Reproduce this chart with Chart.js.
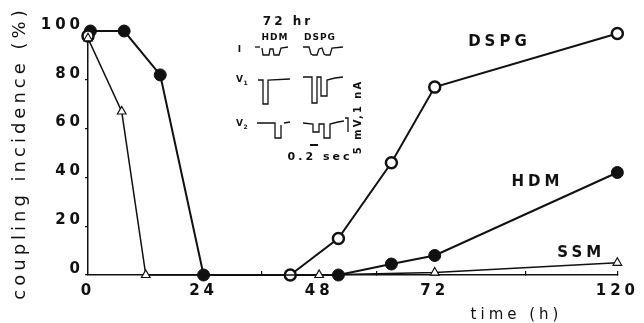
<!DOCTYPE html>
<html>
<head>
<meta charset="utf-8">
<script src="https://cdn.jsdelivr.net/npm/chart.js@4.4.1/dist/chart.umd.min.js"></script>
<style>
  html, body { margin: 0; padding: 0; background: #fff; }
  #wrap { width: 644px; height: 323px; }
</style>
</head>
<body>
<div id="wrap"><canvas id="couplingChart"></canvas></div>
<script>
// values: time (h) and coupling incidence (%)
const hdmHours = [0.5, 7.5, 15, 24, 52, 63, 72, 120];
const hdmValues = [100, 100, 82, 0, 0, 4.5, 8, 42];

const dspgHours = [0, 42, 52, 63, 72, 120];
const dspgValues = [98, 0, 15, 46, 77, 99];

const ssmHours = [0, 7, 12, 48, 72, 120];
const ssmValues = [97, 67, 0, 0, 1, 5];

const xTickValues = [0, 24, 36, 48, 60, 72, 96, 120];
const xTickLabels = ['0', '24', '', '48', '', '72', '', '120'];
const yTickValues = [0, 20, 40, 60, 80, 100];

const INK = '#111';

// the drawn time axis is squeezed after 72 h
const BREAK_AT = 72;
const SQUEEZE = 0.79;
function warp(v) { return v <= BREAK_AT ? v : BREAK_AT + (v - BREAK_AT) * SQUEEZE; }
function unwarp(w) { return w <= BREAK_AT ? w : BREAK_AT + (w - BREAK_AT) / SQUEEZE; }

class SqueezedScale extends Chart.LinearScale {
  getPixelForValue(value) {
    const lo = warp(this.min), hi = warp(this.max);
    return this.getPixelForDecimal((warp(value) - lo) / (hi - lo));
  }
  getValueForPixel(pixel) {
    const lo = warp(this.min), hi = warp(this.max);
    return unwarp(lo + this.getDecimalForPixel(pixel) * (hi - lo));
  }
}
SqueezedScale.id = 'squeezed';
SqueezedScale.defaults = Chart.LinearScale.defaults;
Chart.register(SqueezedScale);

function toPoints(xs, ys) {
  return xs.map((x, i) => ({ x: x, y: ys[i] }));
}

// wide letter spacing like the typewriter lettering of the figure
const spacingPlugin = {
  id: 'spacing',
  beforeDraw(chart) {
    chart.ctx.letterSpacing = '4px';
  }
};

// series names and axis title written in the plot
const labelsPlugin = {
  id: 'labels',
  afterDatasetsDraw(chart) {
    const ctx = chart.ctx;
    const xs = chart.scales.x, ys = chart.scales.y;
    ctx.save();
    ctx.fillStyle = INK;
    ctx.textAlign = 'center';
    ctx.textBaseline = 'middle';
    ctx.letterSpacing = '4px';
    ctx.font = 'bold 15px "DejaVu Sans"';
    ctx.fillText('DSPG', xs.getPixelForValue(89), ys.getPixelForValue(95.5));
    ctx.fillText('HDM', xs.getPixelForValue(99), ys.getPixelForValue(38));
    ctx.fillText('SSM', xs.getPixelForValue(110.5), ys.getPixelForValue(9));
    ctx.font = '15px "DejaVu Sans"';
    ctx.fillText('time (h)', xs.getPixelForValue(93.5), xs.bottom - 8);
    ctx.restore();
  }
};

// inset: current and voltage records at 72 hr
const insetPlugin = {
  id: 'inset',
  afterDraw(chart) {
    const ctx = chart.ctx;
    ctx.save();
    ctx.strokeStyle = INK;
    ctx.fillStyle = INK;
    ctx.lineWidth = 1.3;
    ctx.lineJoin = 'miter';
    function trace(pts) {
      ctx.beginPath();
      pts.forEach((p, i) => i ? ctx.lineTo(p[0], p[1]) : ctx.moveTo(p[0], p[1]));
      ctx.stroke();
    }
    trace([[255, 47], [260, 47]]);
    trace([[262, 48], [263, 55], [269, 55], [270, 49], [273, 49], [274, 55], [279, 55], [281, 48], [288, 47]]);
    trace([[303, 47], [309, 47], [311, 54], [313, 55], [317, 55], [319, 49], [322, 48], [324, 54], [326, 55], [330, 55], [332, 48], [343, 47]]);

    trace([[258, 80], [263, 80], [263, 104], [268, 104], [268, 80], [290, 79]]);
    trace([[303, 77], [312, 77], [312, 103], [317, 103], [317, 77], [321, 77], [321, 96], [327, 96], [327, 80], [335, 78], [343, 77]]);

    trace([[257, 123], [275, 123], [275, 138], [281, 138], [281, 125]]);
    trace([[284, 123], [290, 122]]);
    trace([[303, 123], [313, 124], [313, 132], [319, 132], [319, 124], [324, 124], [324, 138], [330, 138], [330, 124], [338, 122], [344, 121]]);

    trace([[345, 118], [348, 118], [348, 132]]);
    ctx.lineWidth = 2;
    trace([[310, 145], [318, 145]]);

    ctx.textAlign = 'center';
    ctx.textBaseline = 'middle';
    ctx.letterSpacing = '3px';
    ctx.font = 'bold 12px "DejaVu Sans"';
    ctx.fillText('72 hr', 288, 22);
    ctx.letterSpacing = '1px';
    ctx.font = 'bold 9px "DejaVu Sans"';
    ctx.fillText('HDM', 275, 38);
    ctx.fillText('DSPG', 320, 38);
    ctx.fillText('I', 240, 50);
    ctx.fillText('V', 240, 80);
    ctx.fillText('V', 240, 124);
    ctx.font = 'bold 6px "DejaVu Sans"';
    ctx.fillText('1', 246, 83);
    ctx.fillText('2', 246, 127);
    ctx.letterSpacing = '3px';
    ctx.font = 'bold 11px "DejaVu Sans"';
    ctx.fillText('0.2 sec', 320, 157);
    ctx.translate(358, 117);
    ctx.rotate(-Math.PI / 2);
    ctx.letterSpacing = '2px';
    ctx.font = 'bold 10px "DejaVu Sans"';
    ctx.fillText('5 mV,1 nA', 0, 0);
    ctx.restore();
  }
};

Chart.defaults.font.family = '"DejaVu Sans"';
Chart.defaults.color = INK;

const ctx = document.getElementById('couplingChart').getContext('2d');
const couplingChart = new Chart(ctx, {
  type: 'scatter',
  data: {
    datasets: [
      {
        label: 'SSM',
        data: toPoints(ssmHours, ssmValues),
        showLine: true,
        borderColor: INK,
        borderWidth: 1.5,
        pointStyle: 'triangle',
        pointRadius: 5,
        pointBorderWidth: 1.2,
        pointBackgroundColor: '#fff',
        pointBorderColor: INK,
        clip: false
      },
      {
        label: 'DSPG',
        data: toPoints(dspgHours, dspgValues),
        showLine: true,
        borderColor: INK,
        borderWidth: 2,
        segment: {
          // the 0 h control point is not joined to the recovery curve
          borderColor: c => c.p0DataIndex === 0 ? 'rgba(0,0,0,0)' : INK
        },
        pointStyle: 'circle',
        pointRadius: 5.5,
        pointBorderWidth: 2.5,
        pointBackgroundColor: '#fff',
        pointBorderColor: INK,
        clip: false
      },
      {
        label: 'HDM',
        data: toPoints(hdmHours, hdmValues),
        showLine: true,
        borderColor: INK,
        borderWidth: 2,
        pointStyle: 'circle',
        pointRadius: 6,
        pointBorderWidth: 1,
        pointBackgroundColor: INK,
        pointBorderColor: INK,
        clip: false
      }
    ]
  },
  options: {
    responsive: true,
    maintainAspectRatio: false,
    animation: false,
    layout: { padding: { left: 0, right: 22, top: 31, bottom: 0 } },
    plugins: {
      legend: { display: false },
      tooltip: { enabled: false }
    },
    scales: {
      x: {
        type: 'squeezed',
        min: 0,
        max: 120,
        afterBuildTicks: scale => { scale.ticks = xTickValues.map(v => ({ value: v })); },
        afterFit: scale => { scale.height = 48; },
        border: { display: true, color: INK, width: 1.5 },
        grid: {
          drawOnChartArea: false,
          drawTicks: true,
          tickLength: -4,
          lineWidth: 1.2,
          color: c => (xTickLabels[c.index] === '' || c.tick.value === 120) ? INK : 'rgba(0,0,0,0)'
        },
        ticks: {
          autoSkip: false,
          maxRotation: 0,
          padding: 11,
          font: { size: 15, weight: 'bold' },
          color: INK,
          callback: (value, index) => xTickLabels[index]
        }
      },
      y: {
        min: 0,
        max: 100,
        afterBuildTicks: scale => { scale.ticks = yTickValues.map(v => ({ value: v })); },
        afterFit: scale => { scale.width = 88; },
        border: { display: true, color: INK, width: 1.5 },
        grid: {
          drawOnChartArea: false,
          drawTicks: true,
          tickLength: 3,
          lineWidth: 1.2,
          color: INK
        },
        ticks: {
          padding: 1,
          labelOffset: -6,
          font: { size: 15, weight: 'bold' },
          color: INK
        },
        title: {
          display: true,
          text: 'coupling incidence (%)',
          font: { size: 18 },
          color: INK,
          padding: { top: 10, bottom: 0 }
        }
      }
    }
  },
  plugins: [spacingPlugin, labelsPlugin, insetPlugin]
});
</script>
</body>
</html>
